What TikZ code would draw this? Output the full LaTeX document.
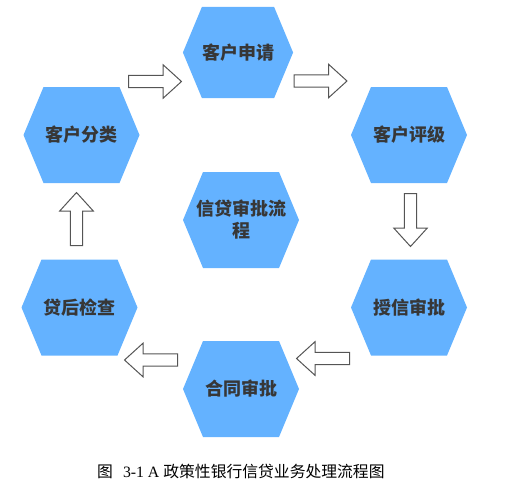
\documentclass[tikz,border=0pt]{standalone}
\usepackage{fontspec}
\setmainfont{Liberation Serif}
\newfontfamily\cjk{Noto Sans CJK SC}
\definecolor{hexblue}{RGB}{100,178,255}
\definecolor{hextext}{RGB}{55,55,55}
\definecolor{arrowgray}{RGB}{85,85,85}
\tikzset{
  hexfill/.style={fill=hexblue},
  hextxt/.style={text=hextext, font=\cjk\bfseries\fontsize{18}{22}\selectfont, align=center, inner sep=0pt},
  blockarrow/.style={draw=arrowgray, fill=white, line width=1pt, line join=miter},
  captxt/.style={font=\fontsize{15.8}{18}\selectfont, text=black, inner sep=0pt, anchor=west}
}
\newcommand\hexa[5][1]{%
  \begin{scope}[shift={(#3,#4)}]
    \fill[hexfill, scale=#1] (-58,0) -- (-38,-48) -- (38,-48) -- (58,0) -- (38,48) -- (-38,48) -- cycle;
    \node[hextxt] (#2) at (0,0) {#5};
  \end{scope}}
\newcommand\barrow[3]{%
  \begin{scope}[shift={(#1,#2)}, rotate=#3]
    \draw[blockarrow] (-26.5,-6.2) -- (8,-6.2) -- (8,-16.8) -- (26.5,0) -- (8,16.8) -- (8,6.2) -- (-26.5,6.2) -- cycle;
  \end{scope}}
\begin{document}
\begin{tikzpicture}[x=1pt, y=-1pt]
  \useasboundingbox (0,0) rectangle (516,485);
  \hexa{fenlei}{81.5}{135}{客户分类}
  \hexa[0.95]{shenqing}{238}{52.5}{客户申请}
  \hexa{pingji}{409}{135}{客户评级}
  \hexa{shouxin}{409}{307.5}{授信审批}
  \hexa{hetong}{241}{389}{合同审批}
  \hexa{daihou}{79.5}{307.5}{贷后检查}
  \hexa{liucheng}{241}{220}{信贷审批流\\程}
  % block arrows
  \barrow{155}{81.5}{0}
  \barrow{320.5}{81}{0}
  \barrow{410.5}{220}{-90}
  \barrow{323}{358.5}{180}
  \barrow{151}{360}{180}
  \barrow{76.5}{219}{90}
  % caption
  \node[captxt] (caption) at (97,471) {{\cjk 图}\hspace{10pt}3-1 A {\cjk 政策性银行信贷业务处理流程图}};
\end{tikzpicture}
\end{document}
